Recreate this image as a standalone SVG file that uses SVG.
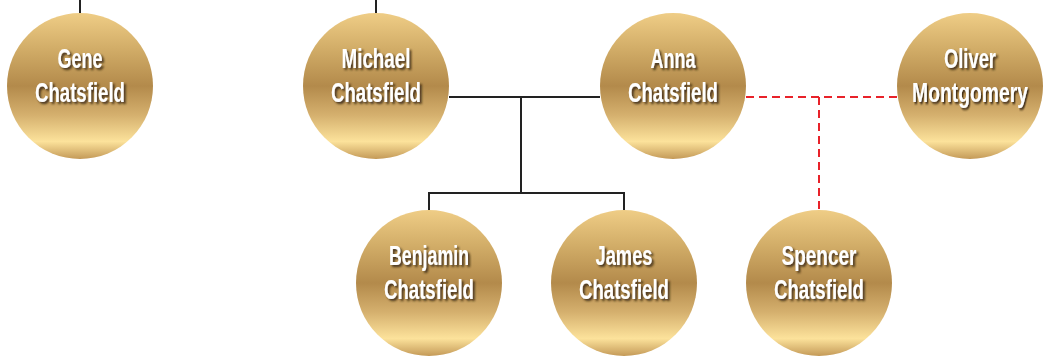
<svg xmlns="http://www.w3.org/2000/svg" width="1049" height="360" viewBox="0 0 1049 360">
<defs>
<linearGradient id="gold" x1="0" y1="0" x2="0" y2="1">
<stop offset="0" stop-color="#efcd86"/>
<stop offset="0.25" stop-color="#d1ac67"/>
<stop offset="0.5" stop-color="#b38a4b"/>
<stop offset="0.7" stop-color="#d5b06e"/>
<stop offset="0.88" stop-color="#fce29b"/>
<stop offset="1" stop-color="#c49a58"/>
</linearGradient>
<filter id="sh" x="-20%" y="-30%" width="140%" height="170%">
<feDropShadow dx="2" dy="2" stdDeviation="0.8" flood-color="#2e200a" flood-opacity="0.85"/>
</filter>
<style>
.node circle{fill:url(#gold);}
.node text{font-family:"Liberation Sans",Arial,sans-serif;font-weight:bold;font-size:27px;fill:#ffffff;text-anchor:middle;filter:url(#sh);}
.solid{stroke:#222222;stroke-width:2;fill:none;}
.dash{stroke:#e8222a;stroke-width:2;stroke-dasharray:8,5;fill:none;}
</style>
</defs>
<g id="connectors">
<path class="solid" d="M80 0V14"/>
<path class="solid" d="M376 0V14"/>
<path class="solid" d="M449 97H600"/>
<path class="solid" d="M521 97V193"/>
<path class="solid" d="M429 210V193H624V210"/>
<path class="dash" d="M746 97H897"/>
<path class="dash" d="M819 97V210"/>
</g>
<g id="gene" class="node"><circle cx="80" cy="86" r="73"/><text x="80" y="68" textLength="45" lengthAdjust="spacingAndGlyphs">Gene</text><text x="80" y="102" textLength="90" lengthAdjust="spacingAndGlyphs">Chatsfield</text></g>
<g id="michael" class="node"><circle cx="376" cy="86" r="73"/><text x="376" y="68" textLength="69" lengthAdjust="spacingAndGlyphs">Michael</text><text x="376" y="102" textLength="90" lengthAdjust="spacingAndGlyphs">Chatsfield</text></g>
<g id="anna" class="node"><circle cx="673" cy="86" r="73"/><text x="673" y="68" textLength="45" lengthAdjust="spacingAndGlyphs">Anna</text><text x="673" y="102" textLength="90" lengthAdjust="spacingAndGlyphs">Chatsfield</text></g>
<g id="oliver" class="node"><circle cx="970" cy="86" r="73"/><text x="970" y="68" textLength="52" lengthAdjust="spacingAndGlyphs">Oliver</text><text transform="translate(970,102) scale(0.716,1)" x="0" y="0">Montgomery</text></g>
<g id="benjamin" class="node"><circle cx="429" cy="283" r="73"/><text x="429" y="265" textLength="80" lengthAdjust="spacingAndGlyphs">Benjamin</text><text x="429" y="299" textLength="90" lengthAdjust="spacingAndGlyphs">Chatsfield</text></g>
<g id="james" class="node"><circle cx="624" cy="283" r="73"/><text x="624" y="265" textLength="57" lengthAdjust="spacingAndGlyphs">James</text><text x="624" y="299" textLength="90" lengthAdjust="spacingAndGlyphs">Chatsfield</text></g>
<g id="spencer" class="node"><circle cx="819" cy="283" r="73"/><text x="819" y="265" textLength="75" lengthAdjust="spacingAndGlyphs">Spencer</text><text x="819" y="299" textLength="90" lengthAdjust="spacingAndGlyphs">Chatsfield</text></g>
</svg>
